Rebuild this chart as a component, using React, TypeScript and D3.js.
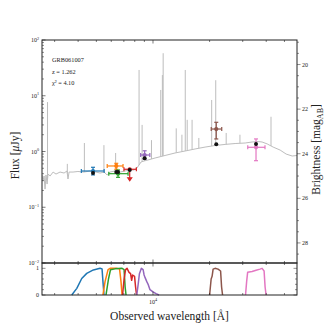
import React, { useRef, useEffect } from "react";
import * as d3 from "d3";

// continuum of the fitted template (observed wavelength in Angstrom, flux in uJy)
const contLam = [2570, 2602, 2636, 2668, 2700, 2735, 2767, 2838, 2944, 3050, 3206, 3367, 3491, 3533, 3580, 3758, 3990, 4295, 4624, 4977, 5230, 5500, 5702, 5916, 6283, 6683, 7100, 7551, 7925, 8222, 8433, 8643, 8974, 9419, 10260, 11590, 13100, 14810, 16740, 18920, 21380, 24170, 27330, 30900, 33650, 36220, 38020, 40440, 43550, 47430, 51050, 54950, 58340];
const contFlux = [0.379, 0.296, 0.364, 0.212, 0.379, 0.261, 0.394, 0.364, 0.428, 0.394, 0.428, 0.411, 0.447, 0.321, 0.428, 0.428, 0.438, 0.428, 0.447, 0.428, 0.411, 0.428, 0.379, 0.428, 0.447, 0.428, 0.447, 0.466, 0.466, 0.506, 0.573, 0.649, 0.676, 0.705, 0.765, 0.848, 0.94, 1.02, 1.11, 1.2, 1.28, 1.34, 1.39, 1.42, 1.48, 1.51, 1.48, 1.37, 1.2, 1.06, 0.9, 0.83, 0.848];

// emission lines (observed wavelength, peak flux)
const lineLam = [2750, 3504, 4318, 5485, 6330, 8433, 8752, 9817, 10996, 11217, 11326, 13290, 14250, 14845, 15200, 16140, 17530, 20514, 21561, 24497, 28995, 42415];
const linePeak = [7.7, 0.6, 1.42, 1.3, 0.94, 29, 3.0, 1.6, 12.7, 23.5, 58, 2.6, 2.0, 29, 3.7, 3.7, 1.75, 8.4, 19, 2.15, 2.0, 4.2];

// photometry
const bandColor = ["#1f77b4", "#ff7f0e", "#2ca02c", "#d62728", "#9467bd", "#8c564b", "#e377c2"];
const photLam = [4800, 6380, 6520, 7520, 9030, 21700, 35300];
const photLamLo = [4160, 5710, 5820, 7010, 8600, 20400, 31900];
const photLamHi = [5500, 6930, 7370, 8160, 9620, 23200, 39400];
const photFlux = [0.447, 0.55, 0.40, 0.48, 0.865, 2.53, 1.19];
const photFluxLo = [0.38, 0.48, 0.344, 0.48, 0.725, 1.68, 0.684];
const photFluxHi = [0.521, 0.614, 0.466, 0.48, 1.03, 3.34, 1.68];
const photUpper = [false, false, false, true, false, false, false];
const modelFlux = [0.41, 0.43, 0.43, 0.466, 0.76, 1.35, 1.36];

// filter transmission curves
const filterLam = [
  [3700, 3935, 4180, 4445, 4820, 5230, 5360, 5420, 5490],
  [5420, 5560, 5770, 5916, 6370, 6640, 6760, 6850],
  [5625, 5800, 5945, 6283, 6850, 7020, 7110, 7190],
  [6890, 7020, 7150, 7280, 7460, 7600, 7700, 7790, 7980, 8080, 8180],
  [8200, 8340, 8470, 8675, 8860, 8970, 9080, 9270, 9420, 9640, 10000, 10380, 10770],
  [20000, 20380, 20620, 20880, 21380, 22180, 22880, 23160, 23440],
  [31050, 31470, 31860, 33650, 35320, 37080, 38020, 38970, 39450, 39930],
];
const filterTrans = [
  [0, 0.25, 0.62, 0.81, 0.94, 1.0, 0.98, 0.5, 0],
  [0, 0.5, 0.95, 1.0, 1.0, 0.98, 0.5, 0],
  [0, 0.6, 0.95, 0.98, 1.0, 0.95, 0.3, 0],
  [0, 0.6, 0.95, 1.0, 0.85, 0.8, 0.55, 0.75, 0.7, 0.3, 0],
  [0, 0.4, 0.8, 1.0, 0.95, 0.75, 0.65, 0.5, 0.4, 0.2, 0.12, 0.05, 0],
  [0, 0.6, 0.7, 0.97, 1.0, 0.97, 0.9, 0.3, 0],
  [0, 0.5, 0.85, 0.88, 0.93, 0.97, 1.0, 0.9, 0.3, 0],
];

const infoLines = ["GRB061007", "z = 1.262", "χ² = 4.10"];
const fluxTicks = [1e-2, 1e-1, 1e0, 1e1, 1e2];
const fluxExp = ["−2", "−1", "0", "1", "2"];
const magTicks = [20, 22, 24, 26, 28];

const W = 332, H = 332;
const L = 42, R = 297, T = 40, B = 263, FB = 295;
const FONT = "'Liberation Serif', 'DejaVu Serif', serif";

export default function App() {
  const svgRef = useRef<SVGSVGElement>(null);

  useEffect(() => {
    const svg = d3.select(svgRef.current);
    svg.selectAll("*").remove();

    const x = d3.scaleLog().domain([2570, 58300]).range([L, R]);
    const y = d3.scaleLog().domain([1e-2, 1e2]).range([B, T]);
    const yf = d3.scaleLinear().domain([0, 1.2]).range([FB, B]);
    const magToFlux = (m: number) => Math.pow(10, (23.9 - m) / 2.5);

    const clip = svg.append("defs").append("clipPath").attr("id", "clipMain");
    clip.append("rect").attr("x", L).attr("y", T).attr("width", R - L).attr("height", B - T);

    // spectrum
    const cont = contLam.map((l, i) => [l, contFlux[i]] as [number, number]);
    const contAt = (l: number) => {
      const i = d3.bisector((d: [number, number]) => d[0]).left(cont, l);
      if (i <= 0) return cont[0][1];
      if (i >= cont.length) return cont[cont.length - 1][1];
      const a = cont[i - 1], b = cont[i];
      const t = (Math.log(l) - Math.log(a[0])) / (Math.log(b[0]) - Math.log(a[0]));
      return Math.exp(Math.log(a[1]) + t * (Math.log(b[1]) - Math.log(a[1])));
    };
    const g = svg.append("g").attr("clip-path", "url(#clipMain)");
    g.append("path")
      .attr("d", d3.line<[number, number]>().x(d => x(d[0])).y(d => y(d[1]))(cont))
      .attr("fill", "none").attr("stroke", "#bdbdbd").attr("stroke-width", 1);
    lineLam.forEach((l, i) => {
      g.append("line")
        .attr("x1", x(l)).attr("x2", x(l))
        .attr("y1", y(contAt(l))).attr("y2", y(linePeak[i]))
        .attr("stroke", "#bdbdbd").attr("stroke-width", 1);
    });

    // photometry with error bars
    photLam.forEach((l, i) => {
      const c = bandColor[i];
      const pg = g.append("g").attr("stroke", c).attr("stroke-width", 1.2);
      const cy = y(photFlux[i]);
      pg.append("line").attr("x1", x(photLamLo[i])).attr("x2", x(photLamHi[i])).attr("y1", cy).attr("y2", cy);
      pg.append("line").attr("x1", x(photLamLo[i])).attr("x2", x(photLamLo[i])).attr("y1", cy - 2).attr("y2", cy + 2);
      pg.append("line").attr("x1", x(photLamHi[i])).attr("x2", x(photLamHi[i])).attr("y1", cy - 2).attr("y2", cy + 2);
      if (photUpper[i]) {
        pg.append("line").attr("x1", x(l)).attr("x2", x(l)).attr("y1", cy).attr("y2", cy + 11);
        pg.append("path")
          .attr("d", `M${x(l) - 2},${cy + 8.5}L${x(l)},${cy + 11.5}L${x(l) + 2},${cy + 8.5}Z`)
          .attr("fill", c);
      } else {
        const y1 = y(photFluxHi[i]), y2 = y(photFluxLo[i]);
        pg.append("line").attr("x1", x(l)).attr("x2", x(l)).attr("y1", y1).attr("y2", y2);
        pg.append("line").attr("x1", x(l) - 2).attr("x2", x(l) + 2).attr("y1", y1).attr("y2", y1);
        pg.append("line").attr("x1", x(l) - 2).attr("x2", x(l) + 2).attr("y1", y2).attr("y2", y2);
      }
      pg.append("circle").attr("cx", x(l)).attr("cy", cy).attr("r", 1.5).attr("fill", c);
    });
    photLam.forEach((l, i) => {
      g.append("circle").attr("cx", x(l)).attr("cy", y(modelFlux[i])).attr("r", 2).attr("fill", "#111");
    });

    // info text
    infoLines.forEach((t, i) => {
      svg.append("text").attr("x", 52).attr("y", 62 + i * 11.5)
        .attr("font-family", FONT).attr("font-size", 6.3).attr("fill", "#222").text(t);
    });

    // filter curves
    filterLam.forEach((ls, k) => {
      const pts = ls.map((l, i) => [l, filterTrans[k][i]] as [number, number]);
      svg.append("path")
        .attr("d", d3.line<[number, number]>().x(d => x(d[0])).y(d => yf(d[1]))(pts))
        .attr("fill", "none").attr("stroke", bandColor[k]).attr("stroke-width", 1.5)
        .attr("stroke-linejoin", "round");
    });

    // frames
    const ax = svg.append("g").attr("stroke", "#222").attr("fill", "none");
    ax.append("rect").attr("x", L).attr("y", T).attr("width", R - L).attr("height", B - T).attr("stroke-width", 1);
    ax.append("rect").attr("x", L).attr("y", B).attr("width", R - L).attr("height", FB - B).attr("stroke-width", 1);

    // x ticks (log) on every horizontal spine
    const xt: number[] = [];
    [1000, 10000].forEach(dec => d3.range(1, 10).forEach(m => {
      const v = dec * m;
      if (v >= 2570 && v <= 58300) xt.push(v);
    }));
    [T, B, FB].forEach(yy => {
      xt.forEach(v => {
        const len = v === 10000 ? 3.5 : 2;
        ax.append("line").attr("x1", x(v)).attr("x2", x(v))
          .attr("y1", yy === T || yy === B ? yy + (yy === T ? 0 : -len) : yy - len)
          .attr("y2", yy === T ? yy + len : yy).attr("stroke-width", 0.6);
        if (yy === B) {
          ax.append("line").attr("x1", x(v)).attr("x2", x(v)).attr("y1", yy).attr("y2", yy + len).attr("stroke-width", 0.6);
        }
      });
    });

    // left flux ticks
    fluxTicks.forEach(v => {
      ax.append("line").attr("x1", L).attr("x2", L + 3.5).attr("y1", y(v)).attr("y2", y(v)).attr("stroke-width", 0.6);
    });
    [1e-2, 1e-1, 1, 10].forEach(dec => d3.range(2, 10).forEach(m => {
      ax.append("line").attr("x1", L).attr("x2", L + 2).attr("y1", y(dec * m)).attr("y2", y(dec * m)).attr("stroke-width", 0.5);
    }));
    // right magnitude ticks
    d3.range(19, 29, 0.5).forEach(m => {
      const major = magTicks.includes(m);
      ax.append("line").attr("x1", R).attr("x2", R + (major ? 3.5 : 2))
        .attr("y1", y(magToFlux(m))).attr("y2", y(magToFlux(m))).attr("stroke-width", 0.5);
    });
    // filter panel y ticks
    d3.range(0, 1.01, 0.2).forEach(v => {
      const major = v < 0.01 || v > 0.99;
      ax.append("line").attr("x1", L).attr("x2", L + (major ? 3.5 : 2)).attr("y1", yf(v)).attr("y2", yf(v)).attr("stroke-width", 0.5);
      ax.append("line").attr("x1", R - (major ? 3.5 : 2)).attr("x2", R).attr("y1", yf(v)).attr("y2", yf(v)).attr("stroke-width", 0.5);
    });

    // tick labels
    const lab = svg.append("g").attr("font-family", FONT).attr("fill", "#222");
    fluxTicks.forEach((v, i) => {
      const t = lab.append("text").attr("x", L - 3).attr("y", y(v) + 2).attr("text-anchor", "end").attr("font-size", 6);
      t.append("tspan").text("10");
      t.append("tspan").attr("dy", -2.5).attr("font-size", 4.2).text(fluxExp[i]);
    });
    magTicks.forEach(m => {
      lab.append("text").attr("x", R + 5).attr("y", y(magToFlux(m)) + 2).attr("font-size", 6).text(String(m));
    });
    [0, 1].forEach(v => {
      lab.append("text").attr("x", L - 3).attr("y", yf(v) + 2).attr("text-anchor", "end").attr("font-size", 6).text(String(v));
    });
    const t4 = lab.append("text").attr("x", x(10000)).attr("y", FB + 8.5).attr("text-anchor", "middle").attr("font-size", 6);
    t4.append("tspan").text("10");
    t4.append("tspan").attr("dy", -2.5).attr("font-size", 4.2).text("4");

    // axis titles
    const yl = lab.append("text").attr("transform", `translate(19,${(T + B) / 2 + 4}) rotate(-90)`)
      .attr("text-anchor", "middle").attr("font-size", 11.5);
    yl.append("tspan").text("Flux [");
    yl.append("tspan").attr("font-style", "italic").text("μ");
    yl.append("tspan").text("Jy]");
    const yr = lab.append("text").attr("transform", `translate(320,${(T + B) / 2 - 2}) rotate(-90)`)
      .attr("text-anchor", "middle").attr("font-size", 11.5);
    yr.append("tspan").text("Brightness [mag");
    yr.append("tspan").attr("dy", 2.5).attr("font-size", 8).text("AB");
    yr.append("tspan").attr("dy", -2.5).text("]");
    lab.append("text").attr("x", (L + R) / 2).attr("y", 320).attr("text-anchor", "middle")
      .attr("font-size", 11.5).text("Observed wavelength [Å]");
  }, []);

  return (
    <svg ref={svgRef} width={W} height={H} style={{ position: "absolute", left: 0, top: 0, background: "#fff" }} />
  );
}
